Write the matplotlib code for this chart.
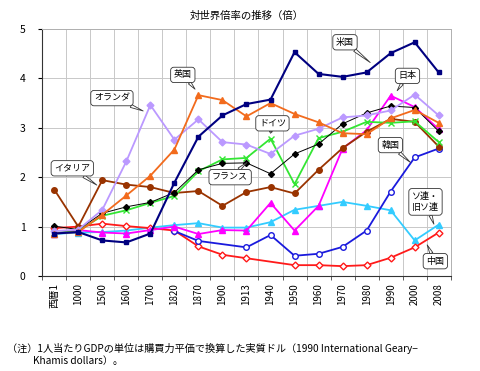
import numpy as np
import matplotlib.pyplot as plt

plt.rcParams['font.family'] = ['Noto Sans CJK JP', 'DejaVu Sans']

# --- data (ratio of per-capita GDP to world average) ---
cats = ['西暦1', '1000', '1500', '1600', '1700', '1820', '1870', '1900', '1913',
        '1940', '1950', '1960', '1970', '1980', '1990', '2000', '2008']
nan = np.nan
us = [0.86, 0.89, 0.72, 0.68, 0.86, 1.89, 2.82, 3.25, 3.48, 3.57, 4.53, 4.09, 4.03, 4.12, 4.51, 4.73, 4.12]
uk = [0.86, 0.89, 1.24, 1.63, 2.03, 2.56, 3.66, 3.56, 3.23, 3.50, 3.28, 3.11, 2.89, 2.87, 3.19, 3.36, 3.10]
nl = [0.91, 0.94, 1.34, 2.32, 3.46, 2.76, 3.17, 2.71, 2.66, 2.47, 2.84, 2.98, 3.21, 3.25, 3.35, 3.67, 3.25]
fr = [1.01, 0.94, 1.27, 1.40, 1.49, 1.69, 2.15, 2.28, 2.29, 2.07, 2.47, 2.67, 3.08, 3.30, 3.44, 3.41, 2.93]
de = [0.87, 0.91, 1.22, 1.33, 1.48, 1.62, 2.12, 2.36, 2.39, 2.78, 1.86, 2.79, 2.92, 3.12, 3.10, 3.13, 2.71]
it = [1.75, 1.00, 1.94, 1.85, 1.80, 1.68, 1.72, 1.42, 1.70, 1.80, 1.67, 2.15, 2.59, 2.92, 3.18, 3.12, 2.62]
jp = [0.86, 0.93, 0.88, 0.86, 0.93, 1.00, 0.85, 0.93, 0.92, 1.48, 0.92, 1.42, 2.58, 2.95, 3.65, 3.42, 2.97]
kr = [nan, nan, nan, nan, nan, 0.91, 0.71, nan, 0.58, 0.83, 0.41, 0.45, 0.59, 0.92, 1.71, 2.40, 2.58]
cn = [0.97, 1.00, 1.06, 1.01, 0.97, 0.92, 0.60, 0.43, 0.36, nan, 0.22, 0.22, 0.20, 0.22, 0.37, 0.58, 0.88]
su = [0.85, 0.88, 0.89, 0.92, 0.98, 1.03, 1.07, 0.98, 0.98, 1.09, 1.34, 1.42, 1.50, 1.42, 1.33, 0.72, 1.04]

series = [
    # values, color, marker, markersize, facecolor, linewidth
    (su, '#33CCFF', '^', 4.5, '#33CCFF', 1.3),
    (cn, '#FF1A1A', 'D', 3.5, 'white', 1.3),
    (kr, '#1A1ADD', 'o', 4.0, 'white', 1.3),
    (jp, '#FF00FF', '^', 4.5, '#FF00FF', 1.3),
    (it, '#993300', 'o', 4.0, '#993300', 1.3),
    (de, '#33E633', 'x', 4.0, '#33E633', 1.3),
    (fr, '#000000', 'D', 3.0, '#000000', 0.7),
    (nl, '#BB99FF', 'D', 3.5, '#BB99FF', 1.3),
    (uk, '#F26B1D', '^', 4.5, '#F26B1D', 1.3),
    (us, '#000080', 's', 3.5, '#000080', 1.5),
]

fig = plt.figure(figsize=(4.8, 3.71), dpi=100)
ax = fig.add_axes([0.088, 0.256, 0.851, 0.666])

x = np.arange(len(cats))
for vals, col, mk, ms, fc, lw in series:
    v = np.array(vals, dtype=float)
    ok = ~np.isnan(v)
    ax.plot(x[ok], v[ok], color=col, lw=lw, marker=mk, ms=ms,
            mfc=fc, mec=col, mew=1.0)

ax.set_xlim(-0.5, len(cats) - 0.5)
ax.set_ylim(0, 5)
ax.set_yticks(range(6))
ax.set_yticklabels([str(i) for i in range(6)], fontsize=7.5)
ax.set_xticks(x)
ax.set_xticklabels(cats, rotation=90, fontsize=7)
ax.tick_params(axis='x', length=0, pad=5)
ax.tick_params(axis='y', length=3, pad=9)
# boundary ticks / grid
ax.set_xticks(np.arange(-0.5, len(cats), 1.0), minor=True)
ax.tick_params(axis='x', which='minor', length=3, direction='out', color='#444444')
ax.grid(True, which='minor', axis='x', color='#C8C8C8', lw=0.7)
ax.grid(True, which='major', axis='y', color='#C8C8C8', lw=0.7)
ax.set_axisbelow(True)
for s in ['top', 'right']:
    ax.spines[s].set_color('#B0B0B0')
    ax.spines[s].set_linewidth(0.7)
for s in ['left', 'bottom']:
    ax.spines[s].set_color('#333333')
    ax.spines[s].set_linewidth(0.8)

ax.set_title('対世界倍率の推移（倍）', fontsize=7.5, pad=7)

# --- callouts ---
callouts = [
    ('米国', (13.15, 4.32), (12.1, 4.73)),
    ('英国', (5.86, 3.78), (5.35, 4.07)),
    ('オランダ', (3.70, 3.34), (2.40, 3.60)),
    ('日本', (14.27, 3.75), (14.70, 4.05)),
    ('ドイツ', (9.0, 2.89), (9.08, 3.09)),
    ('イタリア', (1.77, 1.84), (0.75, 2.18)),
    ('フランス', (8.02, 2.30), (7.32, 2.00)),
    ('韓国', (14.82, 2.30), (13.99, 2.65)),
    ('ソ連・\n旧ソ連', (15.80, 1.05), (15.45, 1.50)),
    ('中国', (15.52, 0.63), (15.86, 0.30)),
]
for txt, xy, xyt in callouts:
    ax.annotate(txt, xy=xy, xytext=xyt, ha='center', va='center', fontsize=6.5,
                linespacing=1.3, zorder=10,
                bbox=dict(boxstyle='round,pad=0.35', fc='white', ec='#333333', lw=0.6),
                arrowprops=dict(arrowstyle='wedge,tail_width=0.35,shrink_factor=0.5',
                                fc='white', ec='#333333', lw=0.6,
                                shrinkA=0, shrinkB=0))

fig.text(0.015, 0.06, '（注）1人当たりGDPの単位は購買力平価で換算した実質ドル（1990 International Geary−',
         fontsize=7.3, va='center', ha='left')
fig.text(0.069, 0.027, 'Khamis dollars）。', fontsize=7.3, va='center', ha='left')

fig.savefig('out.png', dpi=100)
